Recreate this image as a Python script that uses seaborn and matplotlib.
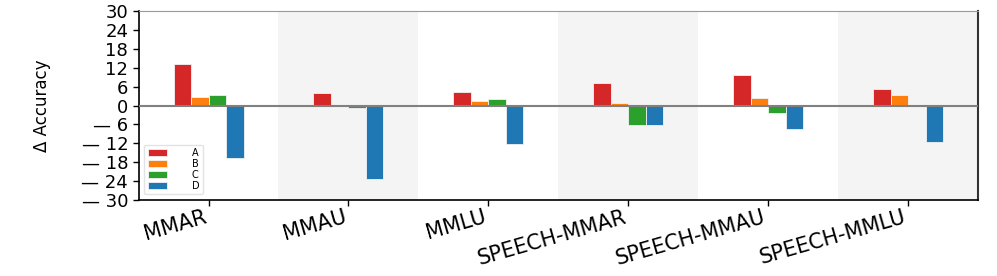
import numpy as np
import pandas as pd
import matplotlib
matplotlib.use("Agg")
import matplotlib.pyplot as plt
import matplotlib.transforms as mtrans
import seaborn as sns

tasks = ["MMAR", "MMAU", "MMLU", "SPEECH-MMAR", "SPEECH-MMAU", "SPEECH-MMLU"]
models = ["A", "B", "C", "D"]
a_vals = [13.1, 3.9, 4.2, 7.3, 9.8, 5.3]
b_vals = [2.7, 0.1, 1.3, 0.9, 2.4, 3.2]
c_vals = [3.3, -0.8, 2.1, -6.2, -2.3, 0.2]
d_vals = [-16.7, -23.2, -12.3, -6.1, -7.5, -11.7]
colors = ["#d62728", "#ff7f0e", "#2ca02c", "#1f77b4"]
yticks = [-30, -24, -18, -12, -6, 0, 6, 12, 18, 24, 30]

rows = []
for m, vals in zip(models, [a_vals, b_vals, c_vals, d_vals]):
    for t, v in zip(tasks, vals):
        rows.append({"task": t, "model": m, "delta": v})
df = pd.DataFrame(rows)

sns.set_style("white")
plt.rcParams["text.color"] = "black"
plt.rcParams["axes.labelcolor"] = "black"
plt.rcParams["xtick.color"] = "black"
plt.rcParams["ytick.color"] = "black"

fig = plt.figure(figsize=(9.97, 2.76), dpi=100)
ax = fig.add_axes([0.139, 0.275, 0.842, 0.685])

# alternate shaded background per task
for i in range(len(tasks)):
    if i % 2 == 1:
        ax.axvspan(i - 0.5, i + 0.5, color="#f4f4f4", zorder=0, lw=0)

sns.barplot(data=df, x="task", y="delta", hue="model", order=tasks,
            hue_order=models, palette=colors, width=0.5, saturation=1,
            edgecolor="#f2f2f2", linewidth=0.6, ax=ax, zorder=2)

ax.axhline(0, color="#808080", lw=1.5, zorder=3)
ax.set_xlim(-0.5, 5.5)
ax.set_ylim(-30, 30)
ax.set_yticks(yticks)
ax.set_yticklabels([str(v).replace("-", "\u2014 ") for v in yticks], fontsize=13)
ax.set_ylabel("\u0394 Accuracy", fontsize=12, labelpad=22)
ax.set_xlabel("")
ax.set_xticks(range(len(tasks)))
ax.set_xticklabels(tasks, rotation=16, ha="right", fontsize=15)
shift = mtrans.ScaledTranslation(12 / 100, 0, fig.dpi_scale_trans)
for lab in ax.get_xticklabels():
    lab.set_transform(lab.get_transform() + shift)
ax.tick_params(axis="both", which="both", length=4, width=1, direction="out",
               left=True, bottom=True, color="black")
ax.tick_params(axis="x", pad=1)

for side in ["left", "bottom"]:
    ax.spines[side].set_color("black")
    ax.spines[side].set_linewidth(1.2)
ax.spines["right"].set_color("#333333")
ax.spines["right"].set_linewidth(1.5)
ax.spines["top"].set_color("#999999")
ax.spines["top"].set_linewidth(0.8)

ax.legend(loc="lower left", fontsize=7, frameon=True, handlelength=2.0,
          handleheight=0.7, labelspacing=0.1, borderpad=0.35,
          handletextpad=2.5, edgecolor="#dddddd", borderaxespad=0.6)

fig.savefig("out.png", dpi=100)
